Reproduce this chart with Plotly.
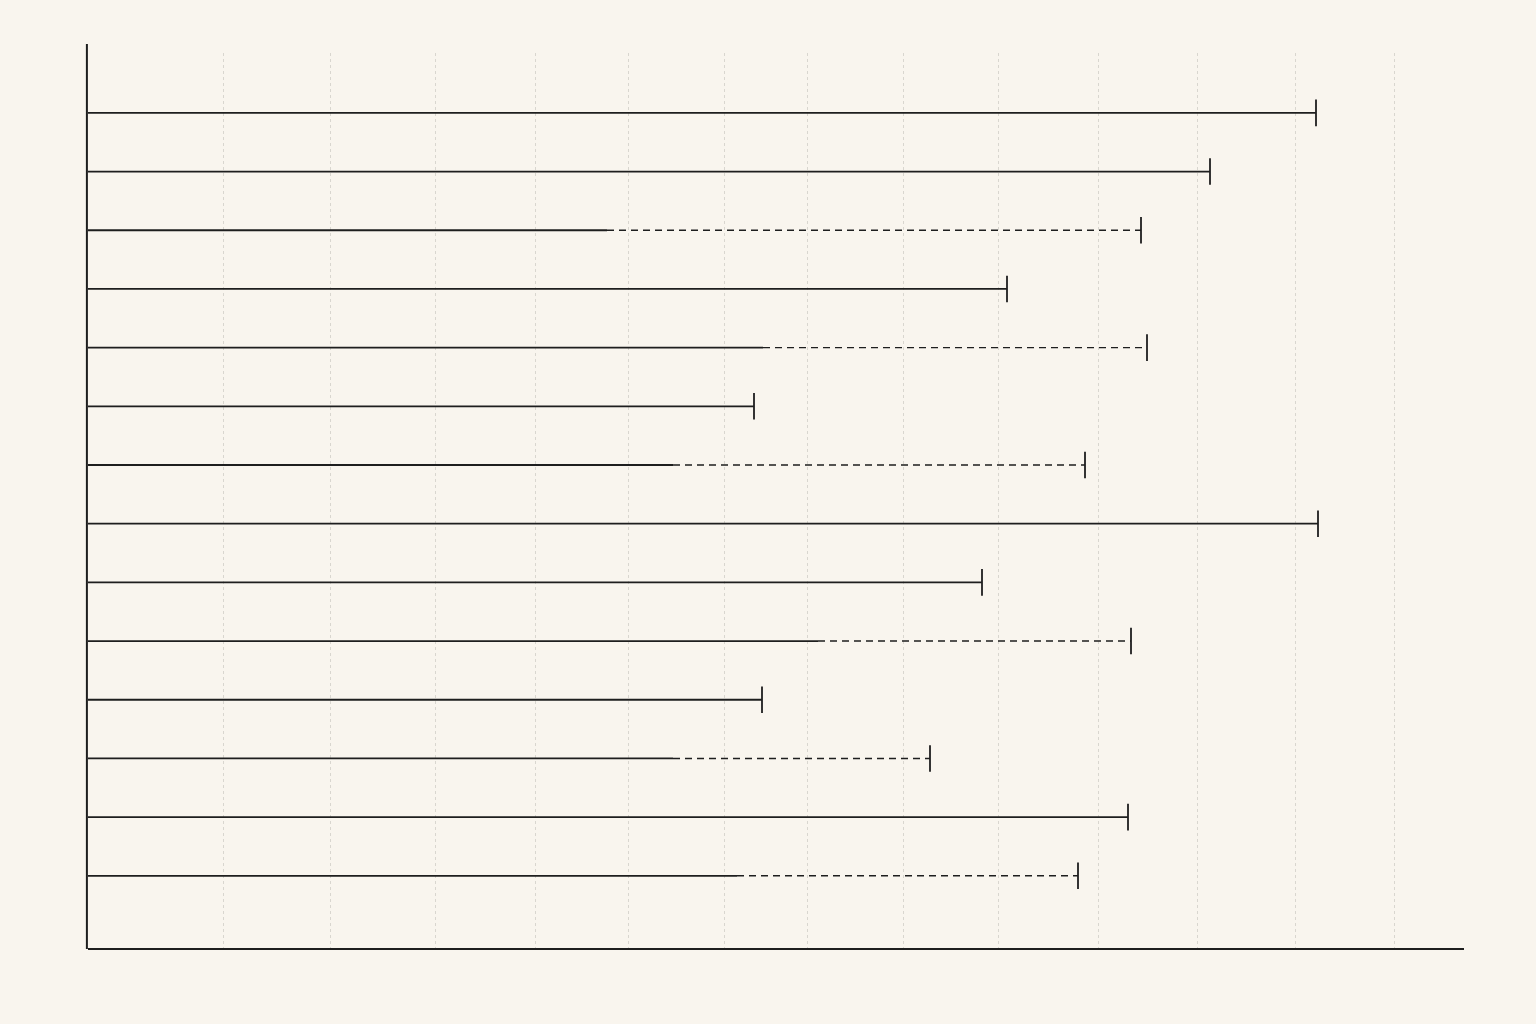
import plotly.graph_objects as go

# --- data (x in chart units from the left axis) ---
rows = list(range(14))
done_end = [1228, 1122, 519, 919, 675, 666, 585, 1230, 894, 730, 674, 585, 1040, 649]
plan_end = [None, None, 1053, None, 1059, None, 997, None, None, 1043, None, 842, None, 990]
grid_ticks = [135, 242, 347, 447, 540, 636, 719, 815, 910, 1010, 1109, 1207, 1306]

BG = "#f9f5ee"
INK = "#1e1e1e"

fig = go.Figure()

for r, d, p in zip(rows, done_end, plan_end):
    # solid part
    fig.add_trace(go.Scatter(x=[0, d], y=[r, r], mode="lines",
                             line=dict(color=INK, width=1.8),
                             hoverinfo="skip", showlegend=False))
    end = d
    if p is not None:
        # dashed remainder
        fig.add_trace(go.Scatter(x=[d, p], y=[r, r], mode="lines",
                                 line=dict(color=INK, width=1.4, dash="7px,5px"),
                                 hoverinfo="skip", showlegend=False))
        end = p
    # end cap
    fig.add_trace(go.Scatter(x=[end], y=[r], mode="markers",
                             marker=dict(symbol="line-ns", size=19,
                                         line=dict(color=INK, width=1.8)),
                             hoverinfo="skip", showlegend=False))

fig.update_xaxes(range=[0, 1376], tickvals=grid_ticks, showticklabels=False,
                 ticks="", showgrid=True, gridcolor="#d9d6cf", gridwidth=1,
                 griddash="dot", zeroline=False, showline=True,
                 linecolor=INK, linewidth=2)
fig.update_yaxes(range=[14.23, -1.02], showticklabels=False, ticks="",
                 showgrid=False, zeroline=False, showline=False)

# y axis line, poking a little above the plot area
fig.add_shape(type="line", xref="paper", yref="paper", x0=-0.0008, x1=-0.0008,
              y0=-0.001, y1=1.01, line=dict(color=INK, width=2), layer="above")

fig.update_layout(width=1520, height=1000,
                  margin=dict(l=80, r=64, t=45, b=60),
                  paper_bgcolor=BG, plot_bgcolor=BG)

fig.write_html("out.html",
               post_script="document.body.style.backgroundColor='%s';" % BG)
